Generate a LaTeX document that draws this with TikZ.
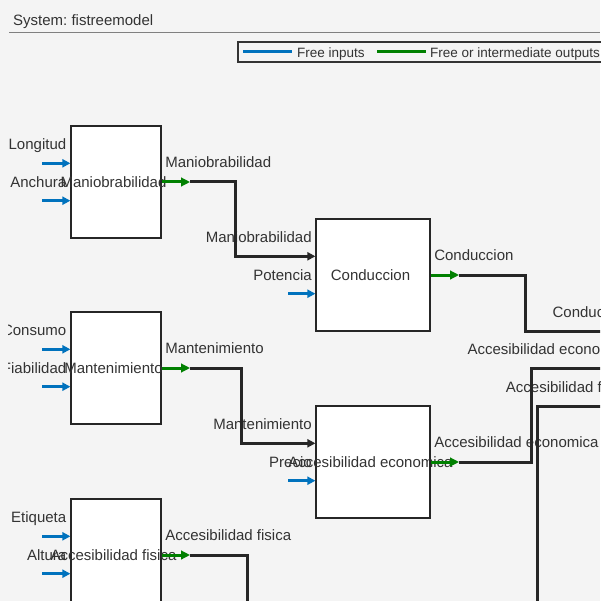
\documentclass[tikz,border=0pt]{standalone}
\usepackage{fontspec}
\setmainfont{Liberation Sans}
\usetikzlibrary{arrows.meta,positioning}
\definecolor{inblue}{HTML}{0072BD}
\definecolor{outgreen}{HTML}{008000}
\definecolor{wire}{HTML}{262626}
\definecolor{txt}{HTML}{333333}
\definecolor{bg}{HTML}{F4F4F4}
\frenchspacing

\begin{document}
\begin{tikzpicture}[x=1pt,y=-1pt,node distance=186pt,on grid,
    lbl/.style={inner sep=0pt,yshift=-1.5pt,text=txt,text height=11pt,text depth=3pt,font=\fontsize{15}{18}\selectfont},
    blk/.style={draw=wire,line width=1.2pt,fill=white,minimum width=90pt,minimum height=112pt,inner sep=0pt},
    wide/.style={blk,minimum width=114pt},
    inp/.style={draw=inblue,line width=3pt,-{Triangle[length=8pt,width=8pt]}},
    outp/.style={draw=outgreen,line width=3pt,-{Triangle[length=9pt,width=8.5pt]}},
    link/.style={draw=wire,line width=3pt,-{Triangle[length=8pt,width=8pt]}}]
  \useasboundingbox (0,0) rectangle (600,601);
  \fill[bg] (0,0) rectangle (600,601);
  % header and legend
  \node[lbl,anchor=west] (title) at (13,20) {System: fistreemodel};
  \draw[gray,line width=0.8pt] (9,32) -- (600,32);
  \draw[txt,line width=1.4pt] (238,42) rectangle (603,62);
  \draw[inblue,line width=3pt] (243,52) -- (292,52);
  \node[lbl,anchor=west,font=\fontsize{13.5}{16}\selectfont] (leg-in) at (297,52) {Free inputs};
  \draw[outgreen,line width=3pt] (377,52) -- (426,52);
  \node[lbl,anchor=west,font=\fontsize{13.5}{16}\selectfont] (leg-out) at (430,52) {Free or intermediate outputs};

  \begin{scope}
  \clip (8,34) rectangle (600,601);
  % blocks
  \node[blk,label={[lbl,xshift=-2.5pt]center:Maniobrabilidad}] (mani) at (116,182) {};
  \node[blk,below=of mani,label={[lbl,xshift=-2.5pt]center:Mantenimiento}] (mant) {};
  \node[blk,below=187pt of mant,label={[lbl,xshift=-2.5pt]center:Accesibilidad fisica}] (fis) {};
  \node[wide,label={[lbl,xshift=-2.5pt]center:Conduccion}] (cond) at (373,275) {};
  \node[wide,below=187pt of cond,label={[lbl,xshift=-2.5pt]center:Accesibilidad economica}] (econ) {};

  % free inputs
  \foreach \b/\p/\q in {mani/Longitud/Anchura, mant/Consumo/Fiabilidad, fis/Etiqueta/Altura}{
    \coordinate (\b-a) at ([yshift=18.7pt]\b.west);
    \coordinate (\b-b) at ([yshift=-18.7pt]\b.west);
    \coordinate (\b-sa) at ([xshift=-28pt]\b-a);
    \coordinate (\b-sb) at ([xshift=-28pt]\b-b);
    \draw[inp] (\b-sa) -- (\b-a);
    \draw[inp] (\b-sb) -- (\b-b);
    \node[lbl,anchor=east] (\b-la) at ([xshift=-4pt,yshift=19pt]\b-a) {\p};
    \node[lbl,anchor=east] (\b-lb) at ([xshift=-4pt,yshift=19pt]\b-b) {\q};
  }
  \foreach \b/\p/\q in {cond/Maniobrabilidad/Potencia, econ/Mantenimiento/Precio}{
    \coordinate (\b-a) at ([yshift=18.7pt]\b.west);
    \coordinate (\b-b) at ([yshift=-18.7pt]\b.west);
    \coordinate (\b-sb) at ([xshift=-27pt]\b-b);
    \draw[inp] (\b-sb) -- (\b-b);
    \node[lbl,anchor=east] (\b-la) at ([xshift=-3.5pt,yshift=19pt]\b-a) {\p};
    \node[lbl,anchor=east] (\b-lb) at ([xshift=-3.5pt,yshift=19pt]\b-b) {\q};
  }

  % outputs
  \foreach \b/\t in {mani/Maniobrabilidad, mant/Mantenimiento, fis/Accesibilidad fisica,
      cond/Conduccion, econ/Accesibilidad economica}{
    \coordinate (\b-o) at ([xshift=28.5pt]\b.east);
    \draw[outp] (\b.east) -- (\b-o);
    \node[lbl,anchor=west] (\b-ol) at ([xshift=3.5pt,yshift=20pt]\b.east) {\t};
  }

  % next block, off to the right
  \coordinate (nx-a) at (635,331);
  \coordinate (nx-b) at (635,368);
  \coordinate (nx-c) at (635,406);
  \foreach \c/\t in {a/Conduccion, b/Accesibilidad economica, c/Accesibilidad fisica}
    \node[lbl,anchor=east] (nx-l\c) at ([xshift=-3pt,yshift=19pt]nx-\c) {\t};

  % links
  \draw[link] (mani-o) -- ++(45,0) |- (cond-a);
  \draw[link] (mant-o) -- ++(51,0) |- (econ-a);
  \draw[link] (cond-o) -- ++(66,0) |- (nx-a);
  \draw[link] (econ-o) -- ++(72,0) |- (nx-b);
  \draw[link] (fis-o) -- ++(57,0) -- ++(0,74) -| ([xshift=-98pt]nx-c) -- (nx-c);
  \end{scope}
\end{tikzpicture}
\end{document}
